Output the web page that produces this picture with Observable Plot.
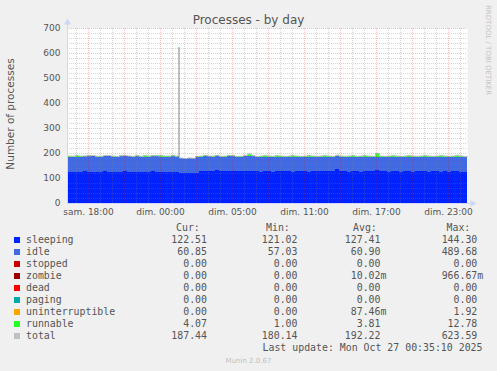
<!DOCTYPE html>
<html><head><meta charset="utf-8">
<script src="https://cdn.jsdelivr.net/npm/d3@7"></script>
<script src="https://cdn.jsdelivr.net/npm/@observablehq/plot@0.6"></script>
<style>
html,body{margin:0;padding:0;background:#f0f0f0;}
#wrap{position:relative;width:497px;height:371px;background:#f0f0f0;overflow:hidden;}
#wrap svg{position:absolute;left:0;top:0;}
</style></head><body><div id="wrap"></div>
<script>
// ---- data (20-minute bins, 100 bins = 33h20m ending Mon Oct 27 00:35 2025) ----
const binMinutes = 20;
const sleeping = [
125,124,126,125,127,126,125,124,126,127,
125,126,124,125,127,126,125,126,124,125,
126,127,125,126,125,126,126,125,122,121,
121,122,121,129,130,128,129,131,128,129,
130,128,129,127,130,129,128,127,126,128,
127,126,128,127,129,128,126,127,128,127,
126,128,127,129,128,127,129,136,128,127,
126,128,127,126,128,129,127,131,128,127,
126,127,128,126,127,128,126,127,128,127,
126,127,128,126,127,126,128,127,126,122.51];
const idle = [
61,62,60,61,60,61,62,61,60,61,
62,60,61,62,60,61,60,61,62,61,
60,61,62,60,61,60,61,61,58,57,
58,57,64,57,58,59,57,56,58,57,
58,59,57,58,57,58,59,58,60,58,
59,60,58,59,57,58,60,59,58,59,
60,58,59,57,58,59,57,52,58,59,
60,58,59,60,58,57,59,55,58,59,
60,59,58,60,59,58,60,59,58,59,
60,59,58,60,59,60,58,59,60,60.85];
const runnable = [
4,3,5,4,3,4,5,4,3,4,
5,4,3,4,5,3,4,4,3,5,
4,3,4,5,4,4,4,4,2,2,
3,2,4,4,5,3,4,6,3,4,
5,4,3,4,5,11,4,3,4,5,
4,3,5,4,3,4,5,4,3,4,
5,4,3,4,5,4,3,5,4,3,
4,5,3,4,5,4,3,12.8,4,3,
4,5,4,3,4,5,4,3,4,5,
4,3,4,5,4,3,4,5,4,4.07];
const total = [
190,189,191,190,190,191,192,189,189,192,
192,190,188,191,192,190,189,191,189,191,
190,191,191,191,190,190,191,190,182,180,
182,181,189,190,193,190,190,193,189,190,
193,191,189,189,192,198,191,188,190,191,
190,189,191,190,189,190,191,190,189,190,
191,190,189,190,191,190,189,193,190,189,
190,191,189,190,191,190,189,198.8,190,189,
190,191,190,189,190,191,190,189,190,191,
190,189,190,191,190,189,190,191,190,187.44];
// one 5-minute sample with the spike
const spikeMinute = [555];
const spikeSleeping = [125];
const spikeIdle = [489.68];
const spikeRunnable = [8.91];
const spikeTotal = [623.59];

const tickMinutes = [105, 465, 825, 1185, 1545, 1905];
const tickLabels = ["sam. 18:00", "dim. 00:00", "dim. 05:00", "dim. 11:00", "dim. 17:00", "dim. 23:00"];
const yTicks = [0, 100, 200, 300, 400, 500, 600, 700];

const legendNames = ["sleeping","idle","stopped","zombie","dead","paging","uninterruptible","runnable","total"];
const legendColors = ["#0022ff","#4169e1","#cc0000","#990000","#ff0000","#00aaaa","#ffa500","#22ff22","#c0c0c0"];
const curVals = ["122.51","60.85","0.00","0.00","0.00","0.00","0.00","4.07","187.44"];
const minVals = ["121.02","57.03","0.00","0.00","0.00","0.00","0.00","1.00","180.14"];
const avgVals = ["127.41","60.90","0.00","10.02m","0.00","0.00","87.46m","3.81","192.22"];
const maxVals = ["144.30","489.68","0.00","966.67m","0.00","0.00","1.92","12.78","623.59"];

// ---- build tables ----
const stackNames = ["sleeping","idle","runnable"];
const stackSeries = {sleeping, idle, runnable};
const spikeSeries = {sleeping: spikeSleeping, idle: spikeIdle, runnable: spikeRunnable};
const stackColors = stackNames.map(n => legendColors[legendNames.indexOf(n)]);
const rows = [];
for (let i = 0; i < sleeping.length; i++)
  for (const n of stackNames) rows.push({t0: i*binMinutes, t1: (i+1)*binMinutes, series: n, v: stackSeries[n][i]});
const spikeRows = [];
spikeMinute.forEach((m, j) => { for (const n of stackNames) spikeRows.push({t0: m, t1: m+5, series: n, v: spikeSeries[n][j]}); });
const totalPts = [];
for (let i = 0; i < total.length; i++) {
  totalPts.push({t: i*binMinutes, v: total[i]});
  spikeMinute.forEach((m, j) => {
    if (m >= i*binMinutes && m < (i+1)*binMinutes) {
      totalPts.push({t: m, v: spikeTotal[j]});
      totalPts.push({t: m+5, v: total[i]});
    }
  });
}
totalPts.push({t: total.length*binMinutes, v: total[total.length-1]});
const xEnd = sleeping.length*binMinutes;

const minorY = d3.range(20, 701, 20).filter(v => v % 100 !== 0);
const majorY = d3.range(100, 701, 100);
const minorX = d3.range(45, xEnd, 60).filter(v => (v-105) % 180 !== 0);
const majorX = d3.range(105, xEnd, 180);

const axisColor = "#CFD6F8";
const chart = Plot.plot({
  width: 497, height: 222,
  marginLeft: 67, marginRight: 30, marginTop: 28, marginBottom: 19,
  x: {domain: [0, xEnd]},
  y: {domain: [0, 700]},
  color: {domain: stackNames, range: stackColors},
  style: {background: "transparent", fontFamily: "DejaVu Sans", fontSize: "9px", color: "#555", overflow: "visible"},
  marks: [
    Plot.frame({fill: "white", stroke: null}),
    Plot.rectY(rows, {x1: "t0", x2: "t1", y: "v", fill: "series", shapeRendering: "crispEdges"}),
    Plot.rectY(spikeRows, {x1: "t0", x2: "t1", y: "v", fill: "series", shapeRendering: "crispEdges"}),
    Plot.line(totalPts, {x: "t", y: "v", stroke: "#c0c0c0", strokeWidth: 1, curve: "step-after"}),
    Plot.ruleY(minorY, {stroke: "#808080", strokeOpacity: 0.33, strokeDasharray: "1,1"}),
    Plot.ruleX(minorX, {stroke: "#808080", strokeOpacity: 0.33, strokeDasharray: "1,1"}),
    Plot.ruleY(majorY, {stroke: "#ff0000", strokeOpacity: 0.25, strokeDasharray: "1,1"}),
    Plot.ruleX(majorX, {stroke: "#ff0000", strokeOpacity: 0.25, strokeDasharray: "1,1"}),
    Plot.ruleY([0], {stroke: axisColor, insetRight: -4}),
    Plot.ruleX([0], {stroke: axisColor, insetTop: -4}),
    Plot.dot([0], {frameAnchor: "top-left", symbol: "triangle", r: 2.6, fill: axisColor, stroke: null, dy: -6}),
    Plot.dot([0], {frameAnchor: "bottom-right", symbol: "triangle", r: 2.6, fill: axisColor, stroke: null, rotate: 90, dx: 5}),
    Plot.axisY({ticks: yTicks, tickSize: 0, tickPadding: 7, label: null}),
    Plot.axisX({ticks: tickMinutes, tickFormat: d => tickLabels[tickMinutes.indexOf(d)], tickSize: 0, tickPadding: 5, label: null})
  ]
});
const wrap = document.getElementById("wrap");
wrap.appendChild(chart);

// ---- overlay texts: title, y label, watermark, legend ----
const svg = d3.select(wrap).append("svg").attr("width", 497).attr("height", 371)
  .style("pointer-events", "none");
svg.append("text").attr("x", 248.5).attr("y", 23.5).attr("text-anchor", "middle")
  .attr("font-family", "DejaVu Sans").attr("font-size", 12).attr("fill", "#555").text("Processes - by day");
svg.append("text").attr("transform", "translate(14,114) rotate(-90)").attr("text-anchor", "middle")
  .attr("font-family", "DejaVu Sans").attr("font-size", 10.5).attr("fill", "#555").text("Number of processes");
svg.append("text").attr("transform", "translate(485.5,5) rotate(90)").attr("text-anchor", "start")
  .attr("font-family", "DejaVu Sans").attr("font-size", 7).attr("fill", "#c4c4c4").text("RRDTOOL / TOBI OETIKER");

const mono = "DejaVu Sans Mono";
const fs = 9.9;
const txt = (x, y, s, anchor) => svg.append("text").attr("x", x).attr("y", y)
  .attr("text-anchor", anchor || "start").attr("font-family", mono).attr("font-size", fs)
  .attr("fill", "#555").text(s);
txt(176, 231, "Cur:"); txt(266, 231, "Min:"); txt(353, 231, "Avg:"); txt(446.5, 231, "Max:");
const colRight = [207, 297.5, 380.5, 477.3];
const cols = [curVals, minVals, avgVals, maxVals];
legendNames.forEach((name, i) => {
  const by = 243 + 12*i;
  svg.append("rect").attr("x", 14).attr("y", by-6).attr("width", 6).attr("height", 6).attr("fill", legendColors[i]);
  txt(26, by, name);
  cols.forEach((vals, c) => {
    const s = vals[i];
    const m = /m$/.test(s);
    txt(colRight[c], by, m ? s.slice(0, -1) : s, "end");
    if (m) txt(colRight[c], by, "m");
  });
});
txt(482.5, 351, "Last update: Mon Oct 27 00:35:10 2025", "end");
svg.append("text").attr("x", 248.5).attr("y", 363).attr("text-anchor", "middle")
  .attr("font-family", "DejaVu Sans").attr("font-size", 7).attr("fill", "#c0c0c0").text("Munin 2.0.67");
</script></body></html>
